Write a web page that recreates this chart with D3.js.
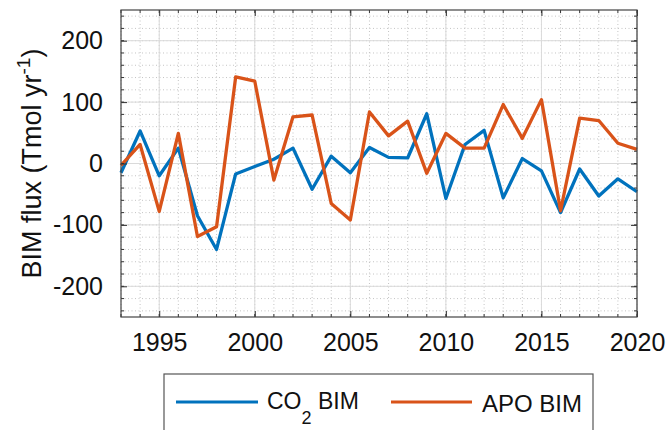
<!DOCTYPE html>
<html>
<head>
<meta charset="utf-8">
<script src="https://cdn.jsdelivr.net/npm/d3@7"></script>
<style>
  body { margin: 0; background: #fff; }
  svg { font-family: "Liberation Sans", Arial, sans-serif; }
</style>
</head>
<body>
<script>
var width = 670, height = 430;

// data
var years = d3.range(1993, 2021);
var co2Bim = [-15, 53, -20, 25, -85, -140, -17, -5, 7, 25, -42, 12, -15, 26,
              10, 9, 81, -57, 31, 54, -56, 8, -12, -80, -9, -53, -25, -46];
var apoBim = [-3, 31, -78, 49, -119, -103, 141, 134, -27, 76, 79, -65, -92, 84,
              45, 69, -16, 49, 25, 25, 96, 41, 104, -77, 74, 70, 33, 23];
var xTicks = [1995, 2000, 2005, 2010, 2015, 2020];
var yTicks = [-200, -100, 0, 100, 200];

var blue = "#0072BD", orange = "#D95319";

// plot box edges (window.top is taken, so prefix them)
var pLeft = 121, pRight = 637, pTop = 10, pBottom = 317;

var svg = d3.select("body").append("svg")
    .attr("width", width)
    .attr("height", height);

var x = d3.scaleLinear().domain([1993, 2020]).range([pLeft, pRight]);
var y = d3.scaleLinear().domain([-250, 250]).range([pBottom, pTop]);

// minor grid, dotted
var grid = svg.append("g");
grid.selectAll(".mx").data(d3.range(1993, 2021)).enter().append("line")
    .attr("x1", d => x(d)).attr("x2", d => x(d))
    .attr("y1", pTop).attr("y2", pBottom)
    .attr("stroke", "#c4c4c4").attr("stroke-dasharray", "1,2.5");
grid.selectAll(".my").data(d3.range(-240, 260, 20)).enter().append("line")
    .attr("x1", pLeft).attr("x2", pRight)
    .attr("y1", d => y(d)).attr("y2", d => y(d))
    .attr("stroke", "#c4c4c4").attr("stroke-dasharray", "1,2.5");

// major grid
grid.selectAll(".gx").data(xTicks).enter().append("line")
    .attr("x1", d => x(d)).attr("x2", d => x(d))
    .attr("y1", pTop).attr("y2", pBottom)
    .attr("stroke", "#dadada").attr("stroke-width", 1);
grid.selectAll(".gy").data(yTicks).enter().append("line")
    .attr("x1", pLeft).attr("x2", pRight)
    .attr("y1", d => y(d)).attr("y2", d => y(d))
    .attr("stroke", "#dadada").attr("stroke-width", 1);

// lines
var line = function(vals) {
  return d3.line()
    .x((d, i) => x(years[i]))
    .y(d => y(d))(vals);
};
svg.append("path").attr("d", line(co2Bim))
    .attr("fill", "none").attr("stroke", blue).attr("stroke-width", 3.3)
    .attr("stroke-linejoin", "round");
svg.append("path").attr("d", line(apoBim))
    .attr("fill", "none").attr("stroke", orange).attr("stroke-width", 3.3)
    .attr("stroke-linejoin", "round");

// axes with inward ticks
function styleAxis(g) {
  g.select(".domain").remove();
  g.selectAll(".tick line").attr("stroke", "#333");
  g.selectAll("text").attr("fill", "#111").style("font-size", "25px");
}

svg.append("g").attr("transform", "translate(0," + pBottom + ")")
    .call(d3.axisBottom(x).tickValues(xTicks).tickFormat(d => String(d))
      .tickSize(-6).tickPadding(16))
    .call(styleAxis);
svg.append("g").attr("transform", "translate(0," + pTop + ")")
    .call(d3.axisTop(x).tickValues(xTicks).tickFormat("").tickSize(-6))
    .call(styleAxis);
svg.append("g").attr("transform", "translate(" + pLeft + ",0)")
    .call(d3.axisLeft(y).tickValues(yTicks).tickFormat(d => String(d))
      .tickSize(-6).tickPadding(18))
    .call(styleAxis);
svg.append("g").attr("transform", "translate(" + pRight + ",0)")
    .call(d3.axisRight(y).tickValues(yTicks).tickFormat("").tickSize(-6))
    .call(styleAxis);

// minor ticks
var minor = svg.append("g").attr("stroke", "#333");
d3.range(1993, 2021).forEach(function(d) {
  minor.append("line").attr("x1", x(d)).attr("x2", x(d)).attr("y1", pBottom).attr("y2", pBottom - 3);
  minor.append("line").attr("x1", x(d)).attr("x2", x(d)).attr("y1", pTop).attr("y2", pTop + 3);
});
d3.range(-240, 260, 20).forEach(function(d) {
  minor.append("line").attr("x1", pLeft).attr("x2", pLeft + 3).attr("y1", y(d)).attr("y2", y(d));
  minor.append("line").attr("x1", pRight).attr("x2", pRight - 3).attr("y1", y(d)).attr("y2", y(d));
});

// plot box
svg.append("rect")
    .attr("x", pLeft).attr("y", pTop)
    .attr("width", pRight - pLeft).attr("height", pBottom - pTop)
    .attr("fill", "none").attr("stroke", "#444").attr("stroke-width", 1.2);

// y label
var yl = svg.append("text")
    .attr("transform", "translate(41," + ((pTop + pBottom) / 2) + ") rotate(-90)")
    .attr("text-anchor", "middle")
    .style("font-size", "27px").attr("fill", "#111");
yl.append("tspan").text("BIM flux (Tmol yr");
yl.append("tspan").text("-1").style("font-size", "19px").attr("dy", -11);
yl.append("tspan").text(")").attr("dy", 11);

// legend
var lg = svg.append("g");
lg.append("rect")
    .attr("x", 164).attr("y", 374).attr("width", 429).attr("height", 62)
    .attr("fill", "#fff").attr("stroke", "#555").attr("stroke-width", 1.2);
lg.append("line").attr("x1", 176).attr("x2", 258).attr("y1", 402).attr("y2", 402)
    .attr("stroke", blue).attr("stroke-width", 2.8);
var t1 = lg.append("text").attr("x", 267).attr("y", 409)
    .style("font-size", "23px").attr("fill", "#111");
t1.append("tspan").text("CO");
t1.append("tspan").text("2").style("font-size", "18px").attr("dy", 15);
t1.append("tspan").text(" BIM").attr("dy", -15);
lg.append("line").attr("x1", 391).attr("x2", 472).attr("y1", 402).attr("y2", 402)
    .attr("stroke", orange).attr("stroke-width", 2.8);
lg.append("text").attr("x", 482).attr("y", 412)
    .style("font-size", "24px").attr("fill", "#111")
    .text("APO BIM");
</script>
</body>
</html>
